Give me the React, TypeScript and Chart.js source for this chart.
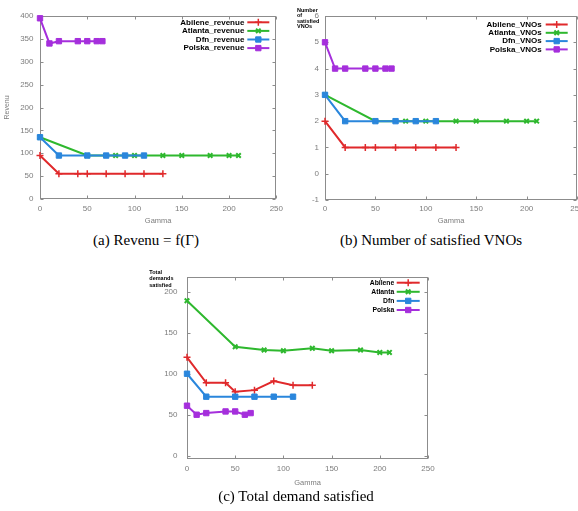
import React, { useEffect, useRef } from 'react';
import { Chart, registerables } from 'chart.js';
import { drawPoint } from 'chart.js/helpers';

Chart.register(...registerables);

// ---------- data ----------
const seriesNames = ['Abilene', 'Atlanta', 'Dfn', 'Polska'];

const gammaAbilene = [0, 20, 40, 50, 70, 90, 110, 130];
const gammaAtlanta = [0, 50, 80, 100, 130, 150, 180, 200, 210];
const gammaDfn = [0, 20, 50, 70, 90, 110];
const gammaPolska = [0, 10, 20, 40, 50, 60, 66];

const revenueAbilene = [95, 55, 55, 55, 55, 55, 55, 55];
const revenueAtlanta = [135, 95, 95, 95, 95, 95, 95, 95, 95];
const revenueDfn = [135, 95, 95, 95, 95, 95];
const revenuePolska = [395, 340, 345, 345, 345, 345, 345];

const vnosAbilene = [2, 1, 1, 1, 1, 1, 1, 1];
const vnosAtlanta = [3, 2, 2, 2, 2, 2, 2, 2, 2];
const vnosDfn = [3, 2, 2, 2, 2, 2];
const vnosPolska = [5, 4, 4, 4, 4, 4, 4];

const demandAbilene = [120, 89, 89, 78, 80, 91, 86, 86];
const demandAtlanta = [189, 133, 129, 128, 131, 128, 129, 126, 126];
const demandDfn = [100, 72, 72, 72, 72, 72];
const demandPolska = [61, 50, 52, 54, 54, 50, 52];

const gammaTicks = [0, 50, 100, 150, 200, 250];
const revenueTicks = [0, 50, 100, 150, 200, 250, 300, 350, 400];
const vnosTicks = [-1, 0, 1, 2, 3, 4, 5, 6];
const demandTicks = [0, 50, 100, 150, 200];

// ---------- styles ----------
const gammas = [gammaAbilene, gammaAtlanta, gammaDfn, gammaPolska];
const seriesColors = ['#e0292b', '#2eb82e', '#2a86dc', '#a52fdc'];
const pointStyles = ['cross', 'crossRot', 'rect', 'rect'];
const pointRadii = [3.5, 3.2, 3.8, 3.8];
const pointBorderWidths = [1.5, 2, 1, 1];

const FONT = "'Liberation Sans', Arial, sans-serif";
const TICK_COLOR = '#7d7d7d';
const FRAME_COLOR = '#8c8c8c';

const gnuFrame = {
  id: 'gnuFrame',
  beforeDatasetsDraw(chart: any) {
    const { ctx, chartArea: a, scales } = chart;
    const L = Math.round(a.left) + 0.5;
    const R = Math.round(a.right) - 0.5;
    const T = Math.round(a.top) + 0.5;
    const B = Math.round(a.bottom) - 0.5;
    const len = 3;
    ctx.save();
    ctx.strokeStyle = FRAME_COLOR;
    ctx.lineWidth = 1;
    ctx.strokeRect(L, T, R - L, B - T);
    ctx.beginPath();
    scales.x.ticks.forEach((t: any) => {
      const px = Math.round(scales.x.getPixelForValue(t.value)) + 0.5;
      ctx.moveTo(px, B);
      ctx.lineTo(px, B - len);
      ctx.moveTo(px, T);
      ctx.lineTo(px, T + len);
    });
    scales.y.ticks.forEach((t: any) => {
      const py = Math.round(scales.y.getPixelForValue(t.value)) + 0.5;
      ctx.moveTo(L, py);
      ctx.lineTo(L + len, py);
      ctx.moveTo(R, py);
      ctx.lineTo(R - len, py);
    });
    ctx.stroke();
    ctx.restore();
  },
};

function legendPlugin(p: any) {
  return {
    id: 'gnuLegend',
    afterDatasetsDraw(chart: any) {
      const { ctx, chartArea: a } = chart;
      ctx.save();
      ctx.font = `bold ${p.size}px ${FONT}`;
      ctx.textAlign = 'right';
      ctx.textBaseline = 'middle';
      chart.data.datasets.forEach((ds: any, i: number) => {
        const y = a.top + p.top + i * p.row;
        const xt = a.right - p.textRight;
        ctx.fillStyle = '#000';
        ctx.fillText(ds.label, xt, y);
        const x1 = xt + p.gap;
        const x2 = x1 + p.len;
        ctx.strokeStyle = ds.borderColor;
        ctx.lineWidth = ds.borderWidth;
        ctx.beginPath();
        ctx.moveTo(x1, y);
        ctx.lineTo(x2, y);
        ctx.stroke();
        ctx.fillStyle = ds.pointBackgroundColor;
        ctx.strokeStyle = ds.pointBorderColor;
        ctx.lineWidth = ds.pointBorderWidth;
        drawPoint(ctx, { pointStyle: ds.pointStyle, radius: ds.pointRadius, rotation: 0, borderWidth: ds.pointBorderWidth } as any, (x1 + x2) / 2, y);
      });
      ctx.restore();
    },
  };
}

function cornerPlugin(p: any) {
  return {
    id: 'cornerText',
    afterDraw(chart: any) {
      if (!p) return;
      const { ctx } = chart;
      ctx.save();
      ctx.font = `bold ${p.size}px ${FONT}`;
      ctx.fillStyle = '#000';
      ctx.textAlign = 'left';
      ctx.textBaseline = 'middle';
      p.lines.forEach((l: string, i: number) => ctx.fillText(l, p.x, p.y + i * p.lineHeight));
      ctx.restore();
    },
  };
}

function makeDatasets(values: number[][], suffix: string) {
  return seriesNames.map((name, i) => ({
    label: name + suffix,
    data: gammas[i].map((g, j) => ({ x: g, y: values[i][j] })),
    borderColor: seriesColors[i],
    backgroundColor: seriesColors[i],
    pointBackgroundColor: seriesColors[i],
    pointBorderColor: seriesColors[i],
    borderWidth: 2,
    pointStyle: pointStyles[i],
    pointRadius: pointRadii[i],
    pointBorderWidth: pointBorderWidths[i],
    tension: 0,
    clip: false,
    order: 3 - i,
  }));
}

function makeConfig(p: any): any {
  return {
    type: 'line',
    data: { datasets: makeDatasets(p.values, p.suffix) },
    options: {
      responsive: false,
      animation: false,
      layout: { padding: p.padding },
      plugins: { legend: { display: false }, tooltip: { enabled: false } },
      scales: {
        x: {
          type: 'linear',
          min: 0,
          max: 250,
          afterBuildTicks: (s: any) => { s.ticks = gammaTicks.map((v) => ({ value: v })); },
          afterFit: (s: any) => { s.height = p.xHeight; },
          grid: { display: false, drawTicks: false },
          border: { display: false },
          ticks: { color: TICK_COLOR, font: { family: FONT, size: 8 }, padding: p.xTickPad, maxRotation: 0, autoSkip: false },
          title: { display: true, text: 'Gamma', color: TICK_COLOR, font: { family: FONT, size: 7.5 }, padding: { top: 0, bottom: p.xTitlePad } },
        },
        y: {
          type: 'linear',
          min: p.yMin,
          max: p.yMax,
          afterBuildTicks: (s: any) => { s.ticks = p.yTicks.map((v: number) => ({ value: v })); },
          afterFit: (s: any) => { s.width = p.yWidth; },
          grid: { display: false, drawTicks: false },
          border: { display: false },
          ticks: { color: TICK_COLOR, font: { family: FONT, size: 8 }, padding: p.yTickPad, autoSkip: false },
          title: p.yTitle
            ? { display: true, text: p.yTitle, color: TICK_COLOR, font: { family: FONT, size: 7 }, padding: { top: 3.2, bottom: 0 } }
            : { display: false },
        },
      },
    },
    plugins: [gnuFrame, legendPlugin(p.legend), cornerPlugin(p.corner)],
  };
}

const panelA = {
  values: [revenueAbilene, revenueAtlanta, revenueDfn, revenuePolska],
  suffix: '_revenue',
  yMin: 0, yMax: 400, yTicks: revenueTicks, yTitle: 'Revenu',
  padding: { top: 16, right: 8, left: 0, bottom: 0 },
  xHeight: 33, yWidth: 40, xTickPad: 5, yTickPad: 6.5, xTitlePad: 6.5,
  legend: { size: 8, top: 6.3, row: 8.6, textRight: 32, gap: 3, len: 22 },
  corner: null,
};

const panelB = {
  values: [vnosAbilene, vnosAtlanta, vnosDfn, vnosPolska],
  suffix: '_VNOs',
  yMin: -1, yMax: 6, yTicks: vnosTicks, yTitle: '',
  padding: { top: 16, right: 12, left: 0, bottom: 0 },
  xHeight: 32, yWidth: 36, xTickPad: 4, yTickPad: 6, xTitlePad: 6.5,
  legend: { size: 8, top: 8.5, row: 8.3, textRight: 35.3, gap: 4, len: 22 },
  corner: { lines: ['Number', 'of', 'satisfied', 'VNOs'], x: 8, y: 10, lineHeight: 5.5, size: 5.5 },
};

const panelC = {
  values: [demandAbilene, demandAtlanta, demandDfn, demandPolska],
  suffix: '',
  yMin: -4, yMax: 218, yTicks: demandTicks, yTitle: '',
  padding: { top: 19, right: 12, left: 0, bottom: 0 },
  xHeight: 39, yWidth: 47, xTickPad: 5, yTickPad: 9.5, xTitlePad: 11,
  legend: { size: 6.8, top: 5.7, row: 9.1, textRight: 33.7, gap: 2.4, len: 23 },
  corner: { lines: ['Total', 'demands', 'satisfied'], x: 9.3, y: 14.3, lineHeight: 6.5, size: 5.5 },
};

const captionStyle: React.CSSProperties = {
  position: 'absolute',
  fontFamily: "'Liberation Serif', 'DejaVu Serif', serif",
  fontSize: 15,
  lineHeight: '17px',
  color: '#000',
  textAlign: 'center',
  whiteSpace: 'nowrap',
};

export default function App() {
  const refA = useRef<HTMLCanvasElement>(null);
  const refB = useRef<HTMLCanvasElement>(null);
  const refC = useRef<HTMLCanvasElement>(null);

  useEffect(() => {
    const charts = [
      new Chart(refA.current as HTMLCanvasElement, makeConfig(panelA)),
      new Chart(refB.current as HTMLCanvasElement, makeConfig(panelB)),
      new Chart(refC.current as HTMLCanvasElement, makeConfig(panelC)),
    ];
    return () => charts.forEach((c) => c.destroy());
  }, []);

  return (
    <div style={{ position: 'absolute', left: 0, top: 0, width: 578, height: 511, overflow: 'hidden', background: '#fff' }}>
      <canvas ref={refA} width={288} height={232} style={{ position: 'absolute', left: 0, top: 0, width: 288, height: 232 }} />
      <canvas ref={refB} width={300} height={232} style={{ position: 'absolute', left: 289, top: 0, width: 300, height: 232 }} />
      <canvas ref={refC} width={300} height={240} style={{ position: 'absolute', left: 140, top: 258, width: 300, height: 240 }} />
      <div style={{ ...captionStyle, left: 46, width: 200, top: 232 }}>(a) Revenu = f(Γ)</div>
      <div style={{ ...captionStyle, left: 331, width: 200, top: 232 }}>(b) Number of satisfied VNOs</div>
      <div style={{ ...captionStyle, left: 196, width: 200, top: 488 }}>(c) Total demand satisfied</div>
    </div>
  );
}
